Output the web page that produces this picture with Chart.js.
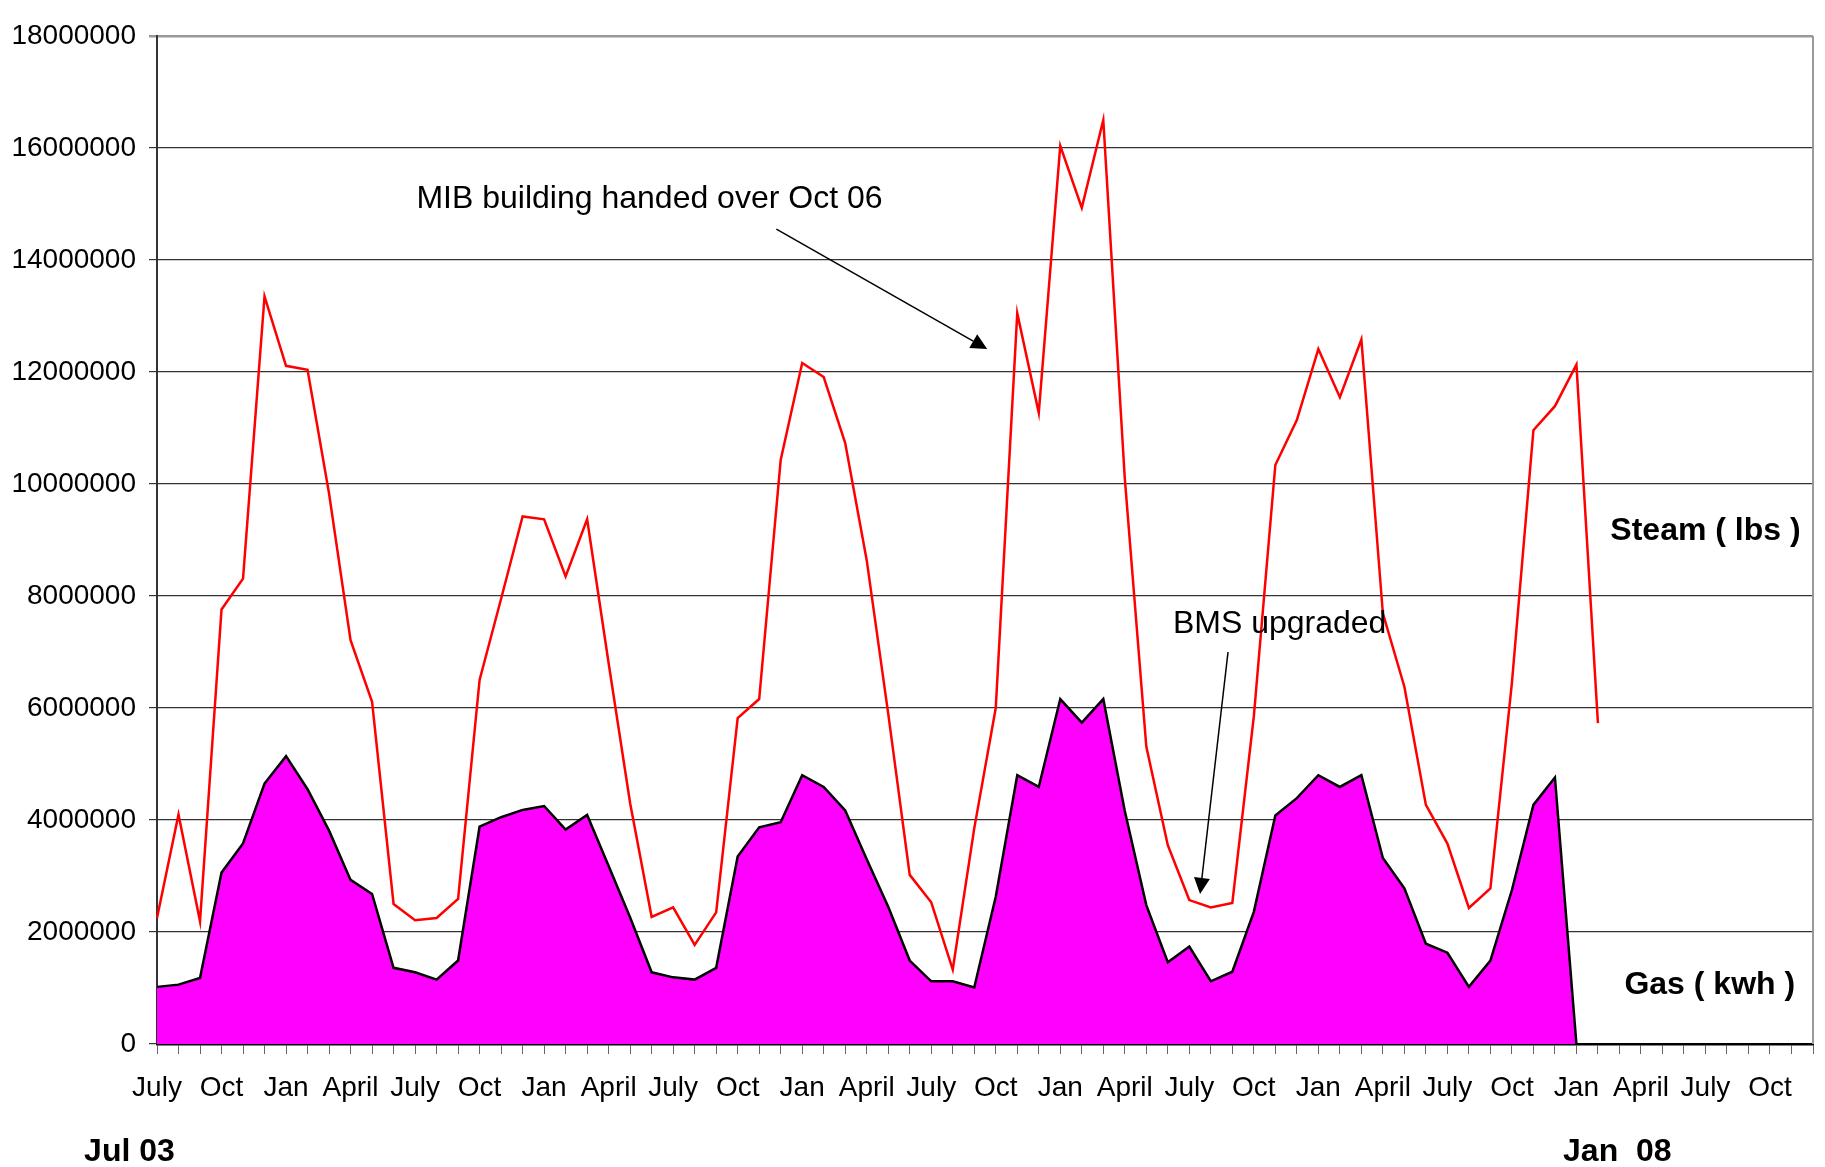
<!DOCTYPE html>
<html>
<head>
<meta charset="utf-8">
<script src="https://cdn.jsdelivr.net/npm/chart.js@4/dist/chart.umd.min.js"></script>
<style>
  html, body { margin: 0; padding: 0; background: #fff; }
  canvas { display: block; }
</style>
</head>
<body>
<canvas id="energy-chart" width="1825" height="1167"></canvas>
<script>
// Monthly categories, Jul 03 onwards (78 months on the axis)
const monthNames = ["July", "Aug", "Sep", "Oct", "Nov", "Dec", "Jan", "Feb", "Mar", "April", "May", "June"];
const monthCount = 78;
const categories = [];
for (let i = 0; i < monthCount; i++) {
  categories.push(monthNames[i % 12]);
}

// Steam ( lbs )
const steamValues = [
  2250000, 4100000, 2190000, 7760000, 8310000, 13350000, 12110000, 12040000, 9830000, 7210000, 6110000, 2500000,
  2210000, 2250000, 2590000, 6500000, 7950000, 9420000, 9370000, 8350000, 9370000, 6800000, 4300000, 2270000,
  2440000, 1770000, 2350000, 5820000, 6160000, 10430000, 12160000, 11910000, 10730000, 8640000, 5900000, 3020000,
  2530000, 1330000, 3850000, 6000000, 13050000, 11270000, 16040000, 14930000, 16500000, 10100000, 5310000, 3550000,
  2570000, 2440000, 2520000, 5850000, 10340000, 11140000, 12410000, 11550000, 12580000, 7690000, 6380000, 4270000,
  3580000, 2430000, 2780000, 6450000, 10960000, 11390000, 12130000, 5730000
];

// Gas ( kwh )
const gasValues = [
  1020000, 1060000, 1180000, 3060000, 3580000, 4650000, 5140000, 4550000, 3810000, 2930000, 2680000, 1360000,
  1280000, 1150000, 1490000, 3880000, 4050000, 4180000, 4250000, 3830000, 4090000, 3180000, 2260000, 1280000,
  1190000, 1150000, 1360000, 3350000, 3870000, 3960000, 4800000, 4590000, 4170000, 3300000, 2450000, 1490000,
  1120000, 1120000, 1010000, 2630000, 4800000, 4590000, 6160000, 5740000, 6160000, 4160000, 2480000, 1460000,
  1740000, 1120000, 1290000, 2360000, 4080000, 4390000, 4800000, 4590000, 4800000, 3320000, 2780000, 1790000,
  1630000, 1020000, 1490000, 2750000, 4270000, 4760000, 0
];

const yMax = 18000000;
const yStep = 2000000;

const fontFamily = "'Liberation Sans', Arial, sans-serif";

function arrow(ctx, x1, y1, x2, y2) {
  const ang = Math.atan2(y2 - y1, x2 - x1);
  const len = 16, half = 8;
  ctx.beginPath();
  ctx.moveTo(x1, y1);
  ctx.lineTo(x2 - Math.cos(ang) * len, y2 - Math.sin(ang) * len);
  ctx.stroke();
  ctx.beginPath();
  ctx.moveTo(x2, y2);
  ctx.lineTo(x2 - Math.cos(ang) * len + Math.sin(ang) * half, y2 - Math.sin(ang) * len - Math.cos(ang) * half);
  ctx.lineTo(x2 - Math.cos(ang) * len - Math.sin(ang) * half, y2 - Math.sin(ang) * len + Math.cos(ang) * half);
  ctx.closePath();
  ctx.fill();
}

// notes, arrows and the right-hand border of the plot
const notesPlugin = {
  id: "notes",
  afterDatasetsDraw(chart) {
    const ctx = chart.ctx;
    const x = chart.scales.x;
    const y = chart.scales.y;
    const area = chart.chartArea;
    ctx.save();

    ctx.strokeStyle = "#999";
    ctx.lineWidth = 2;
    ctx.beginPath();
    ctx.moveTo(area.right, area.top);
    ctx.lineTo(area.right, area.bottom);
    ctx.stroke();

    ctx.fillStyle = "#000";
    ctx.strokeStyle = "#000";
    ctx.lineWidth = 1.5;
    ctx.textAlign = "center";
    ctx.textBaseline = "middle";

    ctx.font = "32px " + fontFamily;
    ctx.fillText("MIB building handed over Oct 06", x.getPixelForValue(22.9), y.getPixelForValue(15080000));
    arrow(ctx, x.getPixelForValue(28.8), y.getPixelForValue(14550000), x.getPixelForValue(38.6), y.getPixelForValue(12410000));

    ctx.fillText("BMS upgraded", x.getPixelForValue(52.2), y.getPixelForValue(7500000));
    arrow(ctx, x.getPixelForValue(49.8), y.getPixelForValue(7000000), x.getPixelForValue(48.5), y.getPixelForValue(2680000));

    ctx.font = "bold 32px " + fontFamily;
    ctx.fillText("Steam ( lbs )", x.getPixelForValue(72.0), y.getPixelForValue(9150000));
    ctx.fillText("Gas ( kwh )", x.getPixelForValue(72.2), y.getPixelForValue(1050000));

    ctx.fillText("Jul 03", x.getPixelForValue(-1.28), 1152);
    ctx.fillText("Jan  08", x.getPixelForValue(67.9), 1152);

    ctx.restore();
  }
};

const energyCanvas = document.getElementById("energy-chart");

const energyData = {
  labels: categories,
  datasets: [
    {
      label: "Steam ( lbs )",
      data: steamValues,
      borderColor: "#ff0000",
      borderWidth: 2.5,
      fill: false,
      pointRadius: 0,
      tension: 0,
    },
    {
      label: "Gas ( kwh )",
      data: gasValues,
      borderColor: "#000000",
      borderWidth: 2.5,
      backgroundColor: "#ff00ff",
      fill: "origin",
      pointRadius: 0,
      tension: 0,
    },
  ],
};

const energyOptions = {
  responsive: false,
  devicePixelRatio: 1,
  animation: false,
  layout: {
    padding: { top: 36, right: 12, left: 0, bottom: 0 },
  },
  plugins: {
    legend: { display: false },
    tooltip: { enabled: false },
  },
  scales: {
    x: {
      type: "category",
      offset: false,
      afterFit(scale) {
        scale.height = 123;
        scale.paddingLeft = 0;
        scale.paddingRight = 0;
      },
      grid: {
        drawOnChartArea: false,
        drawTicks: true,
        tickLength: 10,
        color: "#666",
        offset: false,
      },
      border: { color: "#000", width: 2.5 },
      ticks: {
        autoSkip: false,
        maxRotation: 0,
        minRotation: 0,
        padding: 17,
        color: "#000",
        font: { family: fontFamily, size: 28 },
        callback: function (value, index) {
          return index % 3 === 0 ? this.getLabelForValue(value) : "";
        },
      },
    },
    y: {
      min: 0,
      max: yMax,
      afterFit(scale) {
        scale.width = 157;
      },
      grid: {
        color: (c) => (c.tick && c.tick.value === yMax ? "#999" : "#333"),
        lineWidth: (c) => (c.tick && c.tick.value === yMax ? 2.5 : 1.2),
        tickLength: 8,
      },
      border: { color: "#333", width: 2 },
      ticks: {
        stepSize: yStep,
        padding: 13,
        color: "#000",
        font: { family: fontFamily, size: 28 },
        callback: (v) => String(v),
      },
    },
  },
};

let energyChart = new Chart(energyCanvas, {
  type: "line",
  data: energyData,
  options: energyOptions,
  plugins: [notesPlugin],
});
</script>
</body>
</html>
